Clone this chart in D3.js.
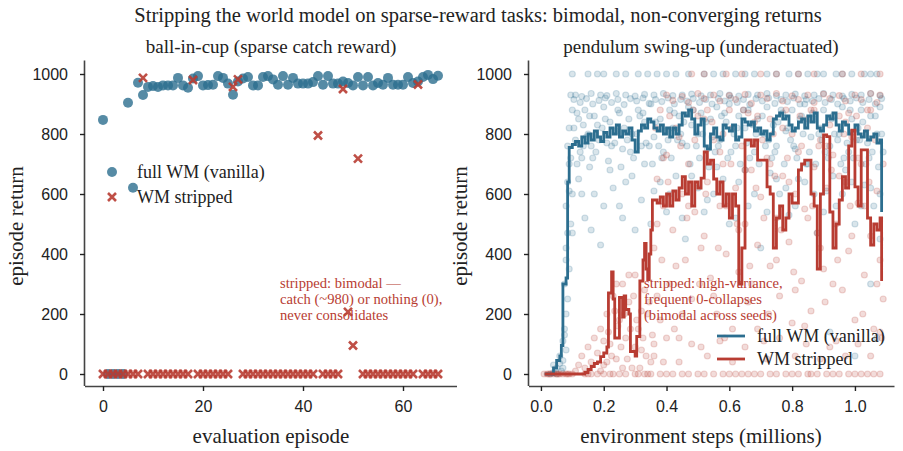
<!DOCTYPE html>
<html>
<head>
<meta charset="utf-8">
<script src="https://cdn.jsdelivr.net/npm/d3@7"></script>
<style>
  html, body { margin: 0; padding: 0; background: #fff; }
  svg { display: block; font-family: "Liberation Serif", "DejaVu Serif", serif; }
</style>
</head>
<body>
<svg id="chart" width="903" height="451"></svg>
<script>
/* Sparse-reward world-model ablation: two panels.
   Left  = per-episode returns on ball-in-cup.
   Right = per-seed scatter + running step curves on pendulum swing-up. */

// ---- left panel: evaluation episodes 0..67 ----
var cupEpisodes = d3.range(0, 68);
var cupFull = [847, 0, 0, 0, 0, 904, 621, 971, 930, 957, 960, 957, 962, 962, 962, 987, 962, 954,
  985, 993, 962, 963, 964, 993, 987, 968, 931, 975, 985, 990, 962, 962, 990, 993, 982, 964, 993,
  964, 987, 968, 968, 968, 973, 993, 964, 993, 968, 968, 975, 970, 962, 990, 962, 990, 962, 970,
  964, 987, 964, 964, 964, 990, 970, 975, 990, 997, 983, 994];
var cupStripped = [0, 0, 0, 0, 0, 0, 0, 0, 987, 0, 0, 0, 0, 0, 0, 0, 0, 0, 980, 0, 0, 0, 0, 0, 0, 0,
  957, 982, 0, 0, 0, 0, 0, 0, 0, 0, 0, 0, 0, 0, 0, 0, 0, 795, 0, 0, 0, 0, 950, 207, 95, 718, 0, 0,
  0, 0, 0, 0, 0, 0, 0, 0, 0, 965, 0, 0, 0, 0];

// ---- right panel: per-seed evaluations [steps (M), return] ----
var pendFullPts = [
  [0.03, 0], [0.04, 5], [0.05, 20], [0.06, 35], [0.06, 60], [0.07, 45], [0.07, 110], [0.075, 150],
  [0.08, 80], [0.05, 0], [0.04, 30], [0.07, 20], [0.065, 10],
  [0.075, 300], [0.08, 420], [0.08, 560], [0.085, 640], [0.09, 700], [0.085, 760], [0.09, 820],
  [0.095, 500], [0.1, 600], [0.1, 880], [0.095, 930], [0.1, 1000],
  [0.08, 380], [0.085, 470], [0.09, 610], [0.09, 350], [0.095, 720], [0.1, 470], [0.085, 250],
  [0.08, 200], [0.075, 130],
  [0.11, 930], [0.13, 925], [0.16, 935], [0.19, 930], [0.21, 928], [0.24, 935], [0.27, 930],
  [0.30, 926], [0.33, 932], [0.36, 930], [0.39, 935], [0.42, 928], [0.45, 930], [0.48, 933],
  [0.51, 927], [0.54, 930], [0.57, 935], [0.60, 930], [0.63, 926], [0.66, 932], [0.69, 930],
  [0.72, 935], [0.75, 928], [0.78, 930], [0.81, 933], [0.84, 927], [0.87, 930], [0.90, 935],
  [0.93, 930], [0.96, 926], [0.99, 932], [1.02, 930], [1.05, 935], [1.08, 928],
  [0.105, 915], [0.125, 905], [0.145, 918], [0.165, 900], [0.185, 912], [0.205, 920], [0.225, 905],
  [0.245, 915], [0.265, 898], [0.285, 918], [0.305, 910], [0.325, 920], [0.345, 902], [0.365, 915],
  [0.385, 908], [0.405, 920], [0.425, 900], [0.445, 915], [0.465, 910], [0.485, 918], [0.505, 905],
  [0.525, 915], [0.545, 900], [0.565, 918], [0.585, 910], [0.605, 920], [0.625, 905], [0.645, 915],
  [0.665, 898], [0.685, 918], [0.705, 910], [0.725, 920], [0.745, 902], [0.765, 915], [0.785, 908],
  [0.805, 920], [0.825, 900], [0.845, 915], [0.865, 910], [0.885, 918], [0.905, 905], [0.925, 915],
  [0.945, 900], [0.965, 918], [0.985, 910], [1.005, 920], [1.025, 905], [1.045, 915], [1.065, 900],
  [1.085, 918],
  [0.15, 1000], [0.18, 1000], [0.24, 1000], [0.31, 1000], [0.37, 1000], [0.43, 1000], [0.55, 1000],
  [0.62, 1000], [0.68, 1000], [0.72, 1000], [0.79, 1000], [0.85, 1000], [0.90, 1000], [0.94, 1000],
  [0.99, 1000], [1.03, 1000], [1.07, 1000],
  [0.2, 1000], [0.27, 1000], [0.34, 1000], [0.4, 1000], [0.47, 1000], [0.52, 1000], [0.58, 1000],
  [0.65, 1000], [0.75, 1000], [0.82, 1000], [0.88, 1000], [0.96, 1000], [1.05, 1000],
  [0.11, 780], [0.12, 850], [0.13, 720], [0.14, 880], [0.15, 800], [0.16, 760], [0.17, 860],
  [0.18, 830], [0.2, 890], [0.21, 770], [0.22, 840], [0.24, 810], [0.25, 870], [0.26, 750],
  [0.28, 850], [0.29, 800], [0.31, 880], [0.32, 760], [0.33, 840], [0.35, 900], [0.36, 790],
  [0.38, 850], [0.39, 740], [0.41, 880], [0.42, 820], [0.44, 860], [0.45, 770], [0.47, 890],
  [0.48, 830], [0.5, 800], [0.51, 870], [0.53, 750], [0.54, 850], [0.56, 890], [0.57, 780],
  [0.59, 840], [0.6, 900], [0.62, 760], [0.63, 860], [0.65, 820], [0.66, 880], [0.68, 740],
  [0.69, 850], [0.71, 800], [0.72, 890], [0.74, 830], [0.75, 760], [0.77, 870], [0.78, 810],
  [0.8, 880], [0.81, 750], [0.83, 860], [0.84, 900], [0.86, 790], [0.87, 850], [0.89, 820],
  [0.9, 880], [0.92, 760], [0.93, 860], [0.95, 800], [0.96, 890], [0.98, 740], [0.99, 850],
  [1.01, 820], [1.02, 880], [1.04, 770], [1.05, 860], [1.07, 800], [1.08, 890], [1.09, 740],
  [0.115, 700], [0.135, 760], [0.155, 690], [0.175, 740], [0.195, 820], [0.215, 710], [0.235, 770],
  [0.255, 690], [0.275, 780], [0.295, 720], [0.315, 860], [0.335, 770], [0.355, 700], [0.375, 760],
  [0.395, 810], [0.415, 720], [0.435, 780], [0.455, 840], [0.475, 700], [0.495, 760], [0.515, 800],
  [0.535, 690], [0.555, 740], [0.575, 860], [0.595, 720], [0.615, 800], [0.635, 700], [0.655, 770],
  [0.675, 830], [0.695, 700], [0.715, 760], [0.735, 720], [0.755, 840], [0.775, 700], [0.795, 780],
  [0.815, 720], [0.835, 800], [0.855, 740], [0.875, 700], [0.895, 780], [0.915, 720], [0.935, 800],
  [0.955, 700], [0.975, 770], [0.995, 720], [1.015, 780], [1.035, 700], [1.055, 740], [1.075, 690],
  [0.105, 820], [0.115, 870], [0.125, 740], [0.135, 830], [0.145, 790], [0.155, 860], [0.165, 720],
  [0.185, 780], [0.205, 850], [0.225, 760], [0.245, 880], [0.265, 820], [0.285, 740], [0.305, 800],
  [0.325, 870], [0.345, 760], [0.365, 840], [0.385, 720], [0.405, 780], [0.425, 870], [0.445, 800],
  [0.465, 760], [0.485, 880], [0.505, 720], [0.525, 840], [0.545, 790], [0.565, 760], [0.585, 870],
  [0.605, 740], [0.625, 820], [0.645, 880], [0.665, 720], [0.685, 800], [0.705, 860], [0.725, 780],
  [0.745, 740], [0.765, 880], [0.785, 820], [0.805, 760], [0.825, 850], [0.845, 700], [0.865, 870],
  [0.885, 800], [0.905, 740], [0.925, 850], [0.945, 780], [0.965, 720], [0.985, 880], [1.005, 780],
  [1.025, 840], [1.045, 720], [1.065, 860], [1.085, 800],
  [0.12, 650], [0.14, 520], [0.17, 600], [0.19, 430], [0.22, 680], [0.25, 560], [0.27, 640],
  [0.3, 480], [0.33, 700], [0.36, 610], [0.4, 540], [0.43, 660], [0.46, 450], [0.5, 620],
  [0.53, 580], [0.56, 690], [0.6, 500], [0.63, 640], [0.66, 560], [0.7, 420], [0.73, 670],
  [0.76, 600], [0.79, 530], [0.82, 650], [0.85, 700], [0.88, 470], [0.91, 610], [0.94, 560],
  [0.97, 680], [1.0, 500], [1.03, 630], [1.06, 560], [1.08, 450],
  [0.13, 600], [0.16, 480], [0.2, 560], [0.23, 620], [0.26, 520], [0.29, 660], [0.32, 580],
  [0.35, 500], [0.38, 640], [0.41, 600], [0.45, 520], [0.48, 660], [0.52, 540], [0.55, 600],
  [0.58, 650], [0.62, 520], [0.65, 680], [0.68, 600], [0.72, 540], [0.75, 650], [0.78, 620],
  [0.81, 560], [0.84, 640], [0.87, 600], [0.9, 540], [0.93, 660], [0.96, 600], [0.99, 640],
  [1.02, 560], [1.05, 620], [1.08, 600],
  [0.92, 140], [1.0, 60], [1.07, 120], [1.05, 300]
];
var pendStrippedPts = [
  [0.01, 0], [0.02, 0], [0.03, 0], [0.04, 0], [0.05, 0], [0.06, 0], [0.07, 0], [0.08, 0],
  [0.09, 0], [0.1, 0], [0.025, 0], [0.055, 0], [0.085, 0],
  [0.11, 10], [0.12, 30], [0.13, 60], [0.14, 20], [0.15, 90], [0.16, 40], [0.17, 120], [0.18, 70],
  [0.19, 150], [0.2, 30], [0.21, 200], [0.22, 100], [0.23, 260], [0.24, 50], [0.25, 180],
  [0.26, 300], [0.27, 120], [0.28, 240], [0.29, 20], [0.3, 330], [0.31, 150], [0.32, 80],
  [0.33, 280], [0.34, 200], [0.35, 40], [0.2, 0], [0.25, 0], [0.3, 0], [0.33, 0], [0.15, 0], [0.22, 0],
  [0.14, 0], [0.16, 0], [0.18, 0], [0.19, 10], [0.21, 40], [0.215, 140], [0.225, 60], [0.235, 210],
  [0.245, 160], [0.255, 90], [0.265, 200], [0.275, 50], [0.285, 150], [0.295, 260], [0.305, 180],
  [0.315, 20], [0.325, 120], [0.335, 60], [0.345, 240], [0.355, 130], [0.2, 110], [0.24, 300],
  [0.26, 20], [0.28, 330], [0.3, 90], [0.32, 210], [0.34, 0], [0.36, 100], [0.37, 260], [0.39, 40],
  [0.23, 0], [0.27, 0], [0.31, 0], [0.35, 0],
  [0.38, 0], [0.42, 0], [0.47, 0], [0.5, 0], [0.55, 0], [0.58, 0], [0.62, 0], [0.66, 0], [0.7, 0],
  [0.73, 0], [0.78, 0], [0.8, 0], [0.85, 0], [0.88, 0], [0.91, 0], [0.95, 0], [1.0, 0], [1.04, 0], [1.08, 0],
  [0.4, 0], [0.45, 0], [0.52, 0], [0.6, 0], [0.64, 0], [0.68, 0], [0.75, 0], [0.82, 0], [0.86, 0],
  [0.93, 0], [0.98, 0], [1.02, 0], [1.06, 0],
  [0.36, 60], [0.4, 120], [0.44, 40], [0.48, 100], [0.53, 60], [0.57, 110], [0.61, 40], [0.65, 90],
  [0.69, 150], [0.72, 50], [0.76, 120], [0.81, 60], [0.84, 160], [0.89, 50], [0.94, 110], [0.97, 60],
  [1.01, 100], [1.05, 60], [1.08, 140],
  [0.36, 420], [0.37, 650], [0.38, 180], [0.39, 560], [0.4, 730], [0.41, 300], [0.42, 480],
  [0.43, 820], [0.44, 120], [0.45, 600], [0.46, 380], [0.47, 700], [0.48, 250], [0.49, 540],
  [0.5, 860], [0.51, 90], [0.52, 460], [0.53, 640], [0.54, 320], [0.55, 780], [0.56, 200],
  [0.57, 560], [0.58, 700], [0.59, 400], [0.6, 880], [0.61, 150], [0.62, 620], [0.63, 340],
  [0.64, 760], [0.65, 500], [0.66, 240], [0.67, 680], [0.68, 840], [0.69, 430], [0.7, 590],
  [0.71, 110], [0.72, 720], [0.73, 360], [0.74, 800], [0.75, 520], [0.76, 260], [0.77, 660],
  [0.78, 880], [0.79, 440], [0.8, 170], [0.81, 600], [0.82, 740], [0.83, 310], [0.84, 550],
  [0.85, 850], [0.86, 210], [0.87, 690], [0.88, 470], [0.89, 780], [0.9, 350], [0.91, 620],
  [0.92, 90], [0.93, 730], [0.94, 500], [0.95, 860], [0.96, 280], [0.97, 640], [0.98, 410],
  [0.99, 790], [1.0, 180], [1.01, 570], [1.02, 700], [1.03, 330], [1.04, 820], [1.05, 460],
  [1.06, 150], [1.07, 610], [1.08, 380], [1.09, 250],
  [0.365, 820], [0.385, 380], [0.405, 640], [0.425, 150], [0.445, 760], [0.465, 520], [0.485, 880],
  [0.505, 300], [0.525, 600], [0.545, 840], [0.565, 420], [0.585, 120], [0.605, 700], [0.625, 500],
  [0.645, 880], [0.665, 360], [0.685, 620], [0.705, 780], [0.725, 200], [0.745, 660], [0.765, 480],
  [0.785, 720], [0.805, 340], [0.825, 860], [0.845, 100], [0.865, 560], [0.885, 760], [0.905, 240],
  [0.925, 680], [0.945, 380], [0.965, 800], [0.985, 560], [1.005, 860], [1.025, 200], [1.045, 640],
  [1.065, 780], [1.085, 120],
  [0.37, 500], [0.39, 720], [0.41, 860], [0.43, 360], [0.45, 200], [0.47, 560], [0.49, 780],
  [0.51, 420], [0.53, 880], [0.55, 260], [0.57, 740], [0.59, 560], [0.61, 820], [0.63, 480],
  [0.65, 680], [0.67, 300], [0.69, 860], [0.71, 520], [0.73, 700], [0.75, 380], [0.77, 820],
  [0.79, 640], [0.81, 280], [0.83, 760], [0.85, 520], [0.87, 880], [0.89, 420], [0.91, 760],
  [0.93, 300], [0.95, 660], [0.97, 840], [0.99, 460], [1.01, 720], [1.03, 560], [1.05, 880],
  [1.07, 300], [1.09, 700],
  [0.38, 880], [0.44, 790], [0.52, 850], [0.58, 800], [0.66, 870], [0.73, 850], [0.8, 800],
  [0.86, 880], [0.92, 830], [0.98, 870], [1.04, 880],
  [0.4, 930], [0.45, 925], [0.5, 935], [0.55, 930], [0.6, 928], [0.65, 932], [0.7, 930],
  [0.75, 935], [0.8, 927], [0.85, 930], [0.9, 933], [0.95, 928], [1.0, 930], [1.05, 935], [1.08, 930],
  [0.42, 912], [0.47, 905], [0.52, 918], [0.57, 910], [0.62, 915], [0.67, 902], [0.72, 918],
  [0.77, 910], [0.82, 915], [0.87, 905], [0.92, 918], [0.97, 910], [1.02, 915], [1.07, 905],
  [0.48, 1000], [0.52, 1000], [0.59, 1000], [0.64, 1000], [0.70, 1000], [0.75, 1000], [0.82, 1000],
  [0.87, 1000], [0.96, 1000], [1.02, 1000], [1.08, 1000]
];

// ---- right panel: running curves [steps (M), return] ----
var pendFullCurve = [
  [0.012, 0], [0.03, 0], [0.04, 20], [0.05, 45], [0.06, 60], [0.065, 95], [0.07, 300], [0.08, 320],
  [0.085, 640], [0.09, 755], [0.1, 765], [0.11, 775], [0.12, 760], [0.13, 790], [0.14, 770],
  [0.15, 800], [0.16, 780], [0.17, 810], [0.18, 790], [0.19, 775], [0.2, 805], [0.21, 790],
  [0.22, 820], [0.23, 800], [0.24, 830], [0.25, 790], [0.26, 810], [0.27, 800], [0.28, 820],
  [0.29, 780], [0.3, 740], [0.31, 810], [0.32, 830], [0.33, 820], [0.34, 850], [0.35, 840],
  [0.36, 820], [0.37, 810], [0.38, 830], [0.39, 800], [0.4, 820], [0.41, 790], [0.42, 820],
  [0.43, 800], [0.44, 830], [0.45, 870], [0.46, 860], [0.47, 880], [0.48, 850], [0.49, 800],
  [0.5, 830], [0.51, 850], [0.52, 760], [0.53, 750], [0.54, 800], [0.55, 820], [0.56, 790],
  [0.57, 780], [0.58, 830], [0.59, 820], [0.6, 810], [0.61, 830], [0.62, 780], [0.63, 790],
  [0.64, 850], [0.65, 840], [0.66, 830], [0.67, 840], [0.68, 810], [0.69, 820], [0.7, 800],
  [0.71, 810], [0.72, 780], [0.73, 800], [0.74, 850], [0.75, 860], [0.76, 870], [0.77, 850],
  [0.78, 860], [0.79, 830], [0.8, 810], [0.81, 820], [0.82, 840], [0.83, 850], [0.84, 820],
  [0.85, 860], [0.86, 840], [0.87, 870], [0.88, 820], [0.89, 810], [0.9, 830], [0.91, 860],
  [0.92, 850], [0.93, 870], [0.94, 830], [0.95, 810], [0.96, 840], [0.97, 830], [0.98, 800],
  [0.99, 810], [1.0, 830], [1.01, 800], [1.02, 790], [1.03, 810], [1.04, 780], [1.05, 790],
  [1.06, 800], [1.07, 770], [1.08, 780], [1.085, 540]
];
var pendStrippedCurve = [
  [0.012, 0], [0.13, 0], [0.14, 5], [0.15, 15], [0.16, 25], [0.17, 35], [0.18, 40], [0.19, 58],
  [0.2, 70], [0.21, 90], [0.215, 270], [0.225, 340], [0.23, 250], [0.235, 120], [0.25, 255],
  [0.26, 190], [0.265, 260], [0.27, 215], [0.28, 200], [0.285, 75], [0.3, 60], [0.305, 125],
  [0.315, 310], [0.325, 380], [0.33, 435], [0.335, 350], [0.34, 315], [0.345, 400], [0.35, 480],
  [0.355, 580], [0.37, 570], [0.38, 590], [0.39, 560], [0.4, 600], [0.41, 560], [0.42, 610],
  [0.43, 580], [0.44, 620], [0.45, 658], [0.46, 600], [0.47, 640], [0.48, 560], [0.49, 640],
  [0.5, 620], [0.51, 653], [0.52, 740], [0.53, 700], [0.54, 713], [0.55, 650], [0.56, 600],
  [0.57, 640], [0.58, 560], [0.59, 600], [0.6, 520], [0.61, 600], [0.62, 560], [0.63, 300],
  [0.64, 420], [0.65, 780], [0.66, 780], [0.67, 760], [0.68, 780], [0.69, 713], [0.7, 713],
  [0.71, 713], [0.72, 624], [0.73, 600], [0.74, 420], [0.75, 520], [0.76, 560], [0.77, 480],
  [0.78, 520], [0.79, 600], [0.8, 570], [0.81, 570], [0.82, 680], [0.83, 700], [0.84, 713],
  [0.85, 713], [0.86, 600], [0.87, 560], [0.88, 350], [0.89, 600], [0.9, 797], [0.91, 791],
  [0.92, 540], [0.93, 420], [0.94, 500], [0.95, 580], [0.96, 658], [0.97, 620], [0.98, 760],
  [0.99, 813], [1.0, 624], [1.01, 560], [1.02, 747], [1.03, 747], [1.04, 520], [1.05, 430],
  [1.06, 500], [1.07, 480], [1.08, 520], [1.085, 310]
];

var returnTicks = [0, 200, 400, 600, 800, 1000];
var episodeTicks = [0, 20, 40, 60];
var stepTicks = [0.0, 0.2, 0.4, 0.6, 0.8, 1.0];

var BLUE = '#2c6e8f', RED = '#b83c32', INK = '#222', SPINE = '#444';

var svg = d3.select('#chart');

/* shared y scale: both panels sit on the same vertical band */
var y = d3.scaleLinear().domain([-40, 1045]).range([386, 60.5]);
var xL = d3.scaleLinear().domain([-3.6, 70.8]).range([85, 457]);
var xR = d3.scaleLinear().domain([-0.038, 1.126]).range([529, 894.5]);

function drawAxes(x, xTicks, xFmt) {
  var gx = svg.append('g').attr('transform', 'translate(0,' + y.range()[0] + ')')
    .call(d3.axisBottom(x).tickValues(xTicks).tickFormat(xFmt).tickSize(5).tickPadding(10));
  var gy = svg.append('g').attr('transform', 'translate(' + x.range()[0] + ',0)')
    .call(d3.axisLeft(y).tickValues(returnTicks).tickFormat(d3.format('d')).tickSize(5).tickPadding(12));
  [gx, gy].forEach(function (g) {
    g.select('.domain').attr('stroke', SPINE).attr('stroke-width', 1.6);
    g.selectAll('.tick line').attr('stroke', INK).attr('stroke-width', 1.4);
    g.selectAll('.tick text').attr('fill', INK).style('font-size', '16px');
  });
  // plain spines (no end caps)
  gx.select('.domain').attr('d', 'M' + x.range()[0] + ',0.5H' + x.range()[1]);
  gy.select('.domain').attr('d', 'M-0.5,' + y.range()[0] + 'V' + y.range()[1]);
}

/* ---- titles and labels ---- */
svg.append('text').attr('x', 478).attr('y', 22).attr('text-anchor', 'middle')
  .attr('fill', INK).style('font-size', '20.5px')
  .text('Stripping the world model on sparse-reward tasks: bimodal, non-converging returns');
svg.append('text').attr('x', 271).attr('y', 53).attr('text-anchor', 'middle')
  .attr('fill', INK).style('font-size', '19px').text('ball-in-cup (sparse catch reward)');
svg.append('text').attr('x', 701).attr('y', 53).attr('text-anchor', 'middle')
  .attr('fill', INK).style('font-size', '19px').text('pendulum swing-up (underactuated)');
svg.append('text').attr('x', 271).attr('y', 443).attr('text-anchor', 'middle')
  .attr('fill', INK).style('font-size', '21px').text('evaluation episode');
svg.append('text').attr('x', 701).attr('y', 443).attr('text-anchor', 'middle')
  .attr('fill', INK).style('font-size', '21px').text('environment steps (millions)');
[[23, 226], [467, 226]].forEach(function (p) {
  svg.append('text').attr('transform', 'translate(' + p[0] + ',' + p[1] + ') rotate(-90)')
    .attr('text-anchor', 'middle').attr('fill', INK).style('font-size', '21px')
    .text('episode return');
});

/* ---- left panel ---- */
drawAxes(xL, episodeTicks, d3.format('d'));

var left = svg.append('g');
left.selectAll('circle.full').data(cupEpisodes).enter().append('circle')
  .attr('class', 'full')
  .attr('cx', function (d) { return xL(d); })
  .attr('cy', function (d) { return y(cupFull[d]); })
  .attr('r', 5).attr('fill', BLUE).attr('fill-opacity', 0.8);

var xMark = 'M-4,-4L4,4M-4,4L4,-4';
left.selectAll('path.strip').data(cupEpisodes).enter().append('path')
  .attr('class', 'strip')
  .attr('transform', function (d) { return 'translate(' + xL(d) + ',' + y(cupStripped[d]) + ')'; })
  .attr('d', xMark).attr('stroke', RED).attr('stroke-width', 2.6).attr('stroke-opacity', 0.9);

// legend
left.append('circle').attr('cx', 112).attr('cy', 172).attr('r', 5)
  .attr('fill', BLUE).attr('fill-opacity', 0.8);
left.append('path').attr('transform', 'translate(112,197)').attr('d', xMark)
  .attr('stroke', RED).attr('stroke-width', 2.6).attr('stroke-opacity', 0.9);
left.append('text').attr('x', 137).attr('y', 178).attr('fill', INK)
  .style('font-size', '18px').text('full WM (vanilla)');
left.append('text').attr('x', 137).attr('y', 203).attr('fill', INK)
  .style('font-size', '18px').text('WM stripped');

// annotation
['stripped: bimodal \u2014', 'catch (~980) or nothing (0),', 'never consolidates'].forEach(function (s, i) {
  left.append('text').attr('x', 280).attr('y', 288 + i * 16).attr('fill', RED)
    .style('font-size', '14.6px').text(s);
});

/* ---- right panel ---- */
drawAxes(xR, stepTicks, d3.format('.1f'));

var right = svg.append('g');
function scatter(pts, color) {
  right.append('g').selectAll('circle').data(pts).enter().append('circle')
    .attr('cx', function (d) { return xR(d[0]); })
    .attr('cy', function (d) { return y(d[1]); })
    .attr('r', 3)
    .attr('fill', color).attr('fill-opacity', 0.18)
    .attr('stroke', color).attr('stroke-opacity', 0.2).attr('stroke-width', 1.2);
}
scatter(pendFullPts, BLUE);
scatter(pendStrippedPts, RED);

['stripped: high-variance,', 'frequent 0-collapses', '(bimodal across seeds)'].forEach(function (s, i) {
  right.append('text').attr('x', 644).attr('y', 288 + i * 16).attr('fill', RED)
    .style('font-size', '14.6px').text(s);
});

var line = d3.line()
  .x(function (d) { return xR(d[0]); })
  .y(function (d) { return y(d[1]); })
  .curve(d3.curveStepAfter);
right.append('path').datum(pendFullCurve).attr('d', line)
  .attr('fill', 'none').attr('stroke', BLUE).attr('stroke-width', 2.8);
right.append('path').datum(pendStrippedCurve).attr('d', line)
  .attr('fill', 'none').attr('stroke', RED).attr('stroke-width', 2.8);

// legend
[[BLUE, 'full WM (vanilla)', 336], [RED, 'WM stripped', 359]].forEach(function (it) {
  right.append('line').attr('x1', 717).attr('x2', 745).attr('y1', it[2]).attr('y2', it[2])
    .attr('stroke', it[0]).attr('stroke-width', 2.8);
  right.append('text').attr('x', 757).attr('y', it[2] + 6).attr('fill', INK)
    .style('font-size', '18px').text(it[1]);
});
</script>
</body>
</html>
